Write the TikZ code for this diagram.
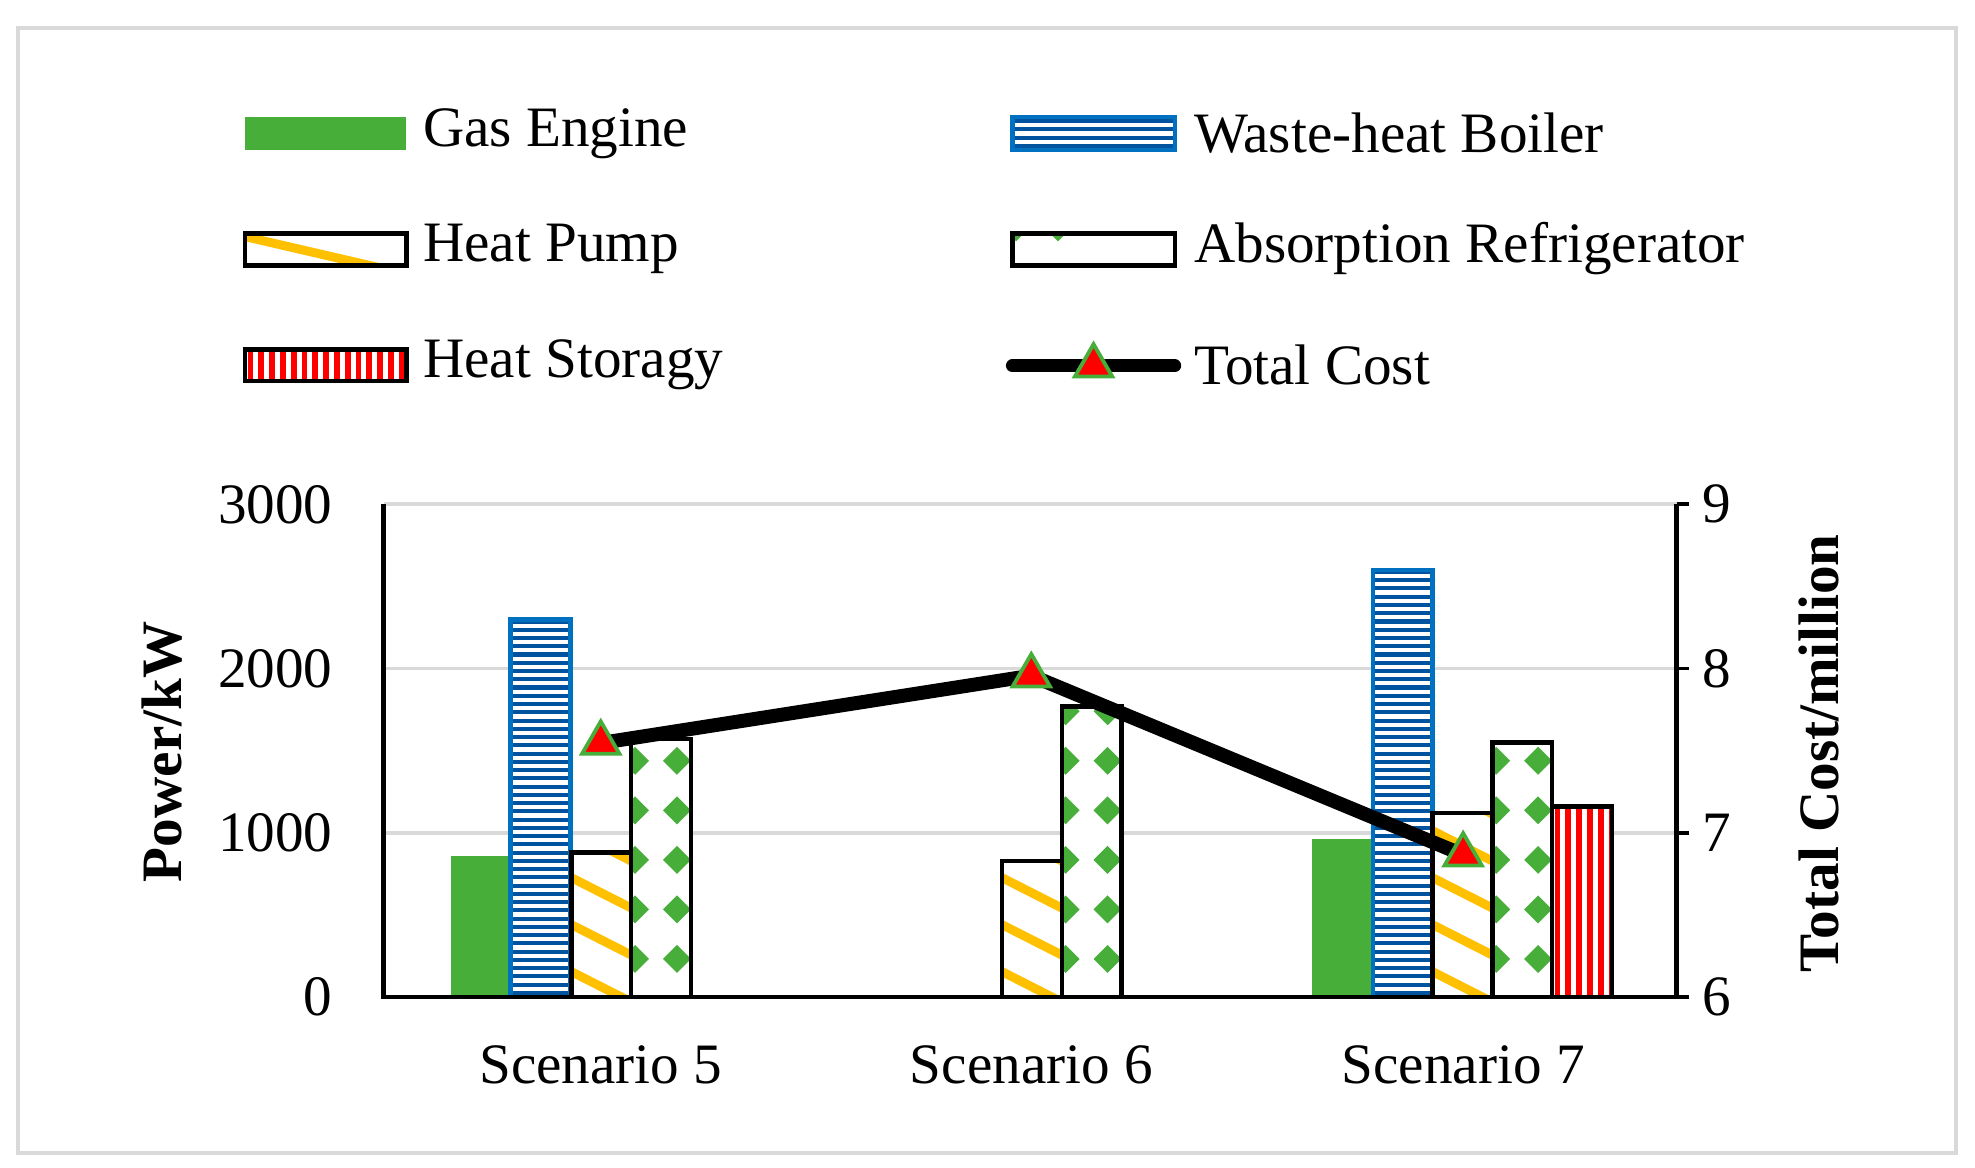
\documentclass[tikz,border=0pt]{standalone}
\usepackage{fontspec}
\setmainfont{Liberation Serif}
\usetikzlibrary{shapes.geometric}
\definecolor{ge}{RGB}{71,174,58}
\definecolor{whbblue}{RGB}{0,112,192}
\definecolor{whbdark}{RGB}{0,84,159}
\definecolor{hpy}{RGB}{255,192,0}
\definecolor{gridg}{RGB}{217,217,217}
\newcommand\pGE[4]{\fill[ge] (#1,#2) rectangle (#3,#4);}
\newcommand\pWHB[4]{\begin{scope}\clip (#1,#2) rectangle (#3,#4);
 \fill[white] (#1,#2) rectangle (#3,#4);
 \foreach \k in {0,...,60}{\fill[whbdark] (#1,{#4-\k*6.5-1.6}) rectangle (#3,{#4-\k*6.5-4.8});}\end{scope}
 \draw[whbblue,line width=3.5] (#1,#4) -- (#1,#2) -- (#3,#2) -- (#3,#4);}
\newcommand\pHP[4]{\begin{scope}\clip (#1,#2) rectangle (#3,#4);
 \fill[white] (#1,#2) rectangle (#3,#4);
 \foreach \k in {-1,...,12}{\draw[hpy,line width=7] ({#1-10},{#4+12-\k*37}) -- ({#3+10},{#4+12-\k*37+34});}\end{scope}
 \draw[black,line width=3.5] (#1,#4) -- (#1,#2) -- (#3,#2) -- (#3,#4);}
\newcommand\pAR[4]{\begin{scope}\clip (#1,#2) rectangle (#3,#4);
 \fill[white] (#1,#2) rectangle (#3,#4);
 \foreach \k in {0,...,12}{\fill[ge] ({#1+3},{#4-30-\k*39}) +(-11,0) -- +(0,-11) -- +(11,0) -- +(0,11) -- cycle;
  \fill[ge] ({#1+36},{#4-30-\k*39}) +(-11,0) -- +(0,-11) -- +(11,0) -- +(0,11) -- cycle;}\end{scope}
 \draw[black,line width=3.5] (#1,#4) -- (#1,#2) -- (#3,#2) -- (#3,#4);}
\newcommand\pHS[4]{\begin{scope}\clip (#1,#2) rectangle (#3,#4);
 \fill[white] (#1,#2) rectangle (#3,#4);
 \foreach \k in {0,...,20}{\fill[red] ({#1+2+\k*8.5},#2) rectangle ({#1+6.5+\k*8.5},#4);}\end{scope}
 \draw[black,line width=3.5] (#1,#4) -- (#1,#2) -- (#3,#2) -- (#3,#4);}
\newcommand\vy[1]{785-0.1293*#1}
\begin{document}
\begin{tikzpicture}[x=1pt,y=-1pt,
 lab/.style={font=\fontsize{45}{45}\selectfont,inner sep=0pt},
 mk/.style={regular polygon,regular polygon sides=3,fill=red,draw=ge,line width=3,minimum size=34pt,inner sep=0pt}]
\useasboundingbox (0,0) rectangle (1555,919);
\draw[gridg,line width=3] (14,22) rectangle (1540,908);
% legend
\pGE{193}{92}{320}{118}
\node[lab,anchor=west] (l1) at (333,105) {Gas Engine};
\pWHB{797}{92}{925}{118}\draw[whbblue,line width=3.5] (797,92) rectangle (925,118);
\node[lab,anchor=west] (l2) at (940,105) {Waste-heat Boiler};
\pHP{193}{184}{320}{209}\draw[line width=3.5] (193,184) rectangle (320,209);
\node[lab,anchor=west] (l3) at (333,196) {Heat Pump};
\pAR{797}{184}{925}{209}\draw[line width=3.5] (797,184) rectangle (925,209);
\node[lab,anchor=west] (l4) at (940,196) {Absorption Refrigerator};
\pHS{193}{275}{320}{300}\draw[line width=3.5] (193,275) rectangle (320,300);
\node[lab,anchor=west] (l5) at (333,287) {Heat Storagy};
\coordinate (la) at (797,288); \coordinate (lb) at (925,288);
\draw[line width=10,line cap=round] (la) -- (lb);
\node[mk] (lm) at (861,288) {};
\node[lab,anchor=west] (l6) at (940,287) {Total Cost};
% grid
\foreach \v in {1000,2000,3000}{\draw[gridg,line width=3] (302,{\vy{\v}}) -- (1320,{\vy{\v}});}
% bars scenario 5
\pGE{355}{\vy{860}}{400}{785}
\pWHB{402}{\vy{2300}}{449}{785}
\pHP{450}{\vy{880}}{497}{785}
\pAR{497}{\vy{1570}}{544}{785}
% scenario 6
\pHP{789}{\vy{830}}{836}{785}
\pAR{836}{\vy{1770}}{883}{785}
% scenario 7
\pGE{1033}{\vy{960}}{1080}{785}
\pWHB{1081}{\vy{2600}}{1128}{785}
\pHP{1128}{\vy{1120}}{1175}{785}
\pAR{1175}{\vy{1550}}{1222}{785}
\pHS{1222}{\vy{1160}}{1269}{785}
% axes
\draw[line width=3.5] (302,397) -- (302,785) -- (1320,785) -- (1320,397);
\foreach \v in {0,1000,2000,3000}{\draw[line width=3] (1320,{\vy{\v}}) -- (1330,{\vy{\v}});
 \node[lab,anchor=east] at (262,{\vy{\v}}) {\v};}
\foreach \v/\n in {0/6,1000/7,2000/8,3000/9}{\node[lab,anchor=west] at (1340,{\vy{\v}}) {\n};}
\node[lab,font=\fontsize{45}{45}\selectfont\bfseries,rotate=90] (yl) at (128,592) {Power/kW};
\node[lab,font=\fontsize{45}{45}\selectfont\bfseries,rotate=90] (yr) at (1432,593) {Total Cost/million};
\node[lab] (s5) at (473,838) {Scenario 5};
\node[lab] (s6) at (812,838) {Scenario 6};
\node[lab] (s7) at (1152,838) {Scenario 7};
% cost line
\coordinate (c5) at (473,585); \coordinate (c6) at (812,532); \coordinate (c7) at (1152,673);
\draw[line width=11] (c5) -- (c6) -- (c7);
\node[mk] (m5) at (c5) {};
\node[mk] (m6) at (c6) {};
\node[mk] (m7) at (c7) {};
\end{tikzpicture}
\end{document}
